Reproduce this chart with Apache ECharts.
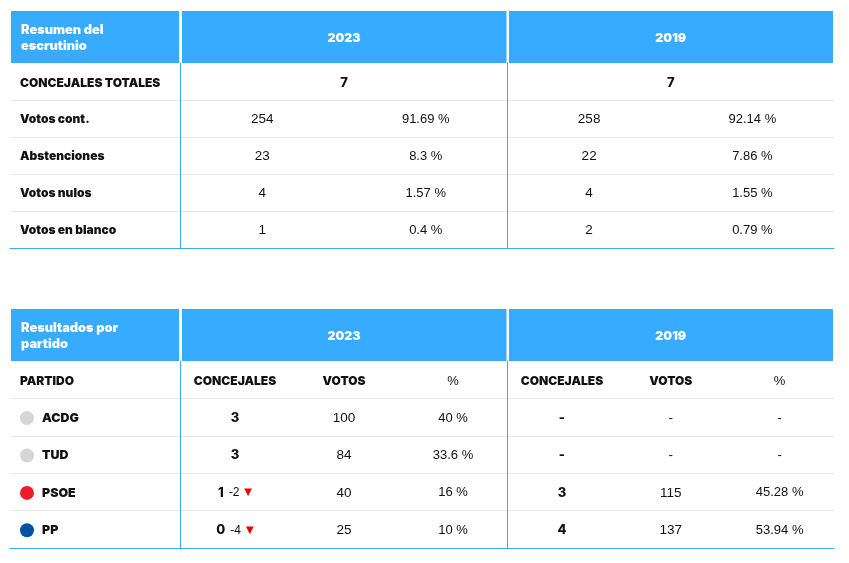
<!DOCTYPE html>
<html>
<head>
<meta charset="utf-8">
<title>Resultados</title>
<script src="https://cdn.jsdelivr.net/npm/echarts@6/dist/echarts.min.js"></script>
<style>
    html, body { margin: 0; padding: 0; background: #fff; }
    #chart { width: 849px; height: 563px; }
</style>
</head>
<body>
<div id="chart"></div>
<script>
// Resumen del escrutinio
const resumenTitle = 'Resumen del\nescrutinio';
const resumenRows = ['CONCEJALES TOTALES', 'Votos cont.', 'Abstenciones', 'Votos nulos', 'Votos en blanco'];
const years = ['2023', '2019'];
const totalConcejales = [7, 7];
const resumenVotos2023 = [254, 23, 4, 1];
const resumenPct2023 = [91.69, 8.3, 1.57, 0.4];
const resumenVotos2019 = [258, 22, 4, 2];
const resumenPct2019 = [92.14, 7.86, 1.55, 0.79];

// Resultados por partido
const partidoTitle = 'Resultados por\npartido';
const partidoHeader = 'PARTIDO';
const columnHeaders = ['CONCEJALES', 'VOTOS', '%'];
const partidos = ['ACDG', 'TUD', 'PSOE', 'PP'];
const partidoColors = ['#d6d6d6', '#d6d6d6', '#ed1c2b', '#0052a5'];
const concejales2023 = [3, 3, 1, 0];
const cambio2023 = [null, null, -2, -4];
const votos2023 = [100, 84, 40, 25];
const pct2023 = [40, 33.6, 16, 10];
const concejales2019 = [null, null, 3, 4];
const votos2019 = [null, null, 115, 137];
const pct2019 = [null, null, 45.28, 53.94];

const BLUE = '#36abff';
const RULE = '#e9e9e9';
const INK = '#111111';
const HEAVY = 'Inter, Roboto, sans-serif';
const PLAIN = '"Liberation Sans", Arial, sans-serif';

const heavyStyle = { fontFamily: HEAVY, fontWeight: 900, fontSize: 12, color: INK };
const cellRich = {
    b: { fontFamily: HEAVY, fontWeight: 900, fontSize: 12, fill: INK },
    d: { fontFamily: HEAVY, fontWeight: 800, fontSize: 13, fill: INK },
    n: { fontFamily: PLAIN, fontWeight: 400, fontSize: 13.5, fill: INK },
    p: { fontFamily: PLAIN, fontWeight: 400, fontSize: 13, fill: INK },
    s: { fontFamily: PLAIN, fontSize: 12, fill: INK, padding: [0, 5, 0, 5] },
    t: { fontFamily: '"DejaVu Sans"', fontSize: 10, fill: '#f00000' }
};

const fmtPct = v => (v === null ? '-' : v + ' %');
const fmtNum = v => (v === null ? '-' : String(v));
const heavy = t => '{b|' + t + '}';
const digit = t => '{d|' + t + '}';
const plain = t => '{n|' + t + '}';
const pctText = t => '{p|' + t + '}';

const dotRich = {};
partidoColors.forEach((c, i) => {
    dotRich['dot' + i] = { width: 14, height: 14, borderRadius: 7, backgroundColor: c };
});

// cells: [column position, row index, rich text]
function resumenCells(y) {
    const votos = y === 0 ? resumenVotos2023 : resumenVotos2019;
    const pct = y === 0 ? resumenPct2023 : resumenPct2019;
    const cells = [[1, 0, digit(totalConcejales[y])]];
    votos.forEach((v, i) => {
        cells.push([0.5, i + 1, plain(fmtNum(v))]);
        cells.push([1.5, i + 1, pctText(fmtPct(pct[i]))]);
    });
    return cells;
}

function partidoCells(y) {
    const conc = y === 0 ? concejales2023 : concejales2019;
    const votos = y === 0 ? votos2023 : votos2019;
    const pct = y === 0 ? pct2023 : pct2019;
    const cells = [
        [0.5, 0, heavy(columnHeaders[0])],
        [1.5, 0, heavy(columnHeaders[1])],
        [2.5, 0, pctText(columnHeaders[2])]
    ];
    partidos.forEach((p, i) => {
        let c = digit(fmtNum(conc[i]));
        if (y === 0 && cambio2023[i] !== null) {
            c += '{s|' + cambio2023[i] + '}{t|▼}';
        }
        cells.push([0.5, i + 1, c]);
        cells.push([1.5, i + 1, plain(fmtNum(votos[i]))]);
        cells.push([2.5, i + 1, pctText(fmtPct(pct[i]))]);
    });
    return cells;
}

function labelFormatter(value, index, isPartido) {
    if (index === 0) return '{top|' + value + '}';
    if (isPartido) return '{dot' + (index - 1) + '|}{name|' + value + '}';
    return '{b|' + value + '}';
}

const grids = [];
const xAxes = [];
const yAxes = [];
const series = [];
const graphics = [];

function addTable(cfg) {
    const spans = [
        { left: 10, width: 170.5 },
        { left: 180.5, width: 327 },
        { left: 507.5, width: 326.5 }
    ];
    const bands = [
        { left: 11, width: 168 },
        { left: 182, width: 324.5 },
        { left: 509, width: 324 }
    ];
    bands.forEach(b => {
        graphics.push({
            type: 'rect', silent: true, z: 1,
            shape: { x: b.left, y: cfg.headTop, width: b.width, height: cfg.top - cfg.headTop },
            style: { fill: BLUE }
        });
    });
    graphics.push({
        type: 'text', silent: true, z: 2,
        x: 21, y: (cfg.headTop + cfg.top) / 2 + 1,
        style: {
            text: cfg.title, fill: '#fff', fontFamily: HEAVY, fontWeight: 900, fontSize: 12.8,
            lineHeight: 16, verticalAlign: 'middle', align: 'left'
        }
    });
    years.forEach((yr, y) => {
        graphics.push({
            type: 'text', silent: true, z: 2,
            x: spans[y + 1].left + spans[y + 1].width / 2, y: (cfg.headTop + cfg.top) / 2 + 1,
            style: {
                text: yr, fill: '#fff', fontFamily: HEAVY, fontWeight: 900, fontSize: 12.4,
                align: 'center', verticalAlign: 'middle'
            }
        });
    });

    spans.forEach((s, g) => {
        const gridIndex = grids.length;
        grids.push({ left: s.left, top: cfg.top, width: s.width, height: cfg.height });
        xAxes.push({
            gridIndex: gridIndex, type: 'value', min: 0, max: cfg.cols,
            axisLine: { show: true, onZero: false, lineStyle: { color: BLUE, width: 1 } },
            axisTick: { show: false }, axisLabel: { show: false }, splitLine: { show: false }
        });
        yAxes.push({
            gridIndex: gridIndex, type: 'category', inverse: true, data: cfg.rows,
            axisLine: { show: g > 0, onZero: false, lineStyle: { color: BLUE, width: 1 } },
            axisTick: { show: false },
            splitLine: { show: true, showMinLine: false, showMaxLine: false, lineStyle: { color: RULE, width: 1 } },
            axisLabel: {
                show: g === 0, inside: true, margin: 10, padding: [2, 0, 0, 0],
                formatter: (v, i) => labelFormatter(v, i, cfg.isPartido),
                rich: Object.assign({
                    b: heavyStyle,
                    top: Object.assign({}, heavyStyle, { padding: [2, 0, 0, 0] }),
                    name: Object.assign({}, heavyStyle, { fontSize: 12.4, padding: [0, 0, 0, 8] })
                }, dotRich)
            }
        });
        if (g > 0) {
            const cells = cfg.cells(g - 1);
            series.push({
                type: 'custom', xAxisIndex: gridIndex, yAxisIndex: gridIndex,
                data: cells.map(c => [c[0], c[1]]),
                encode: { x: 0, y: 1 },
                silent: true, clip: false,
                renderItem: function(params, api) {
                    const row = api.value(1);
                    const pt = api.coord([api.value(0), row]);
                    return {
                        type: 'text', x: pt[0], y: pt[1] + (row === 0 ? 2 : 1),
                        style: {
                            text: cells[params.dataIndex][2], rich: cellRich,
                            align: 'center', verticalAlign: 'middle'
                        }
                    };
                }
            });
        }
    });
}

addTable({
    title: resumenTitle, headTop: 11, top: 63, height: 185, cols: 2,
    rows: resumenRows, cells: resumenCells, isPartido: false
});
addTable({
    title: partidoTitle, headTop: 309, top: 361, height: 187, cols: 3,
    rows: [partidoHeader].concat(partidos), cells: partidoCells, isPartido: true
});

const chart = echarts.init(document.getElementById('chart'));
chart.setOption({
    animation: false,
    backgroundColor: '#fff',
    grid: grids,
    xAxis: xAxes,
    yAxis: yAxes,
    series: series,
    graphic: graphics
});
</script>
</body>
</html>
